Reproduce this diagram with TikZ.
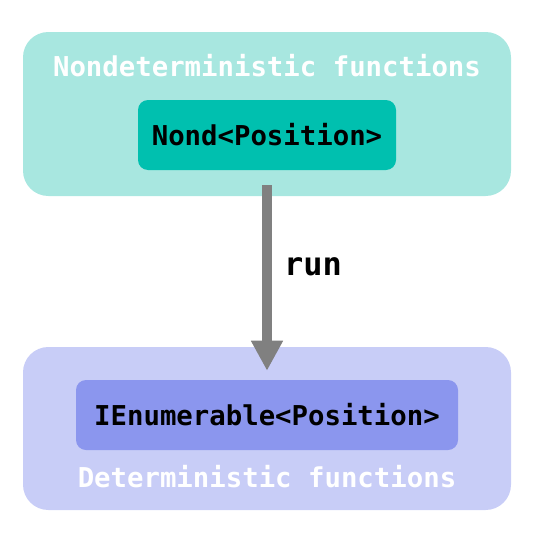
\documentclass[tikz,border=0pt]{standalone}
\usepackage{fontspec}
\newfontfamily\codefont{DejaVu Sans Mono}
\usetikzlibrary{arrows.meta}
\definecolor{topouter}{HTML}{A8E7E0}
\definecolor{topinner}{HTML}{00C0AF}
\definecolor{botouter}{HTML}{C8CDF7}
\definecolor{botinner}{HTML}{8B96EE}
\definecolor{arrowgray}{HTML}{808080}
\tikzset{
  outerbox/.style={rectangle, rounded corners=19pt, inner sep=0pt, minimum width=366pt},
  innerbox/.style={rectangle, rounded corners=7.5pt, inner sep=0pt, minimum height=52.5pt,
    font=\codefont\bfseries\fontsize{20.5pt}{24pt}\selectfont, text=black},
  titletext/.style={font=\codefont\bfseries\fontsize{20.5pt}{24pt}\selectfont, text=white, inner sep=0pt},
  runarrow/.style={draw=arrowgray, line width=7.5pt,
    -{Triangle[width=22.5pt,length=22.5pt]}, shorten <=11.25pt, shorten >=6.75pt},
}
\begin{document}
\begin{tikzpicture}[x=0.75pt,y=-0.75pt]
\useasboundingbox (0,0) rectangle (535,546);
\node[outerbox, fill=topouter, minimum height=123pt] (topbox) at (267,114) {};
\node[titletext] (toptitle) at (267,66) {Nondeterministic functions};
\node[innerbox, fill=topinner, minimum width=193.5pt] (nond) at (267,135) {Nond<Position>};
\node[outerbox, fill=botouter, minimum height=122.25pt] (botbox) at (267,428.5) {};
\node[innerbox, fill=botinner, minimum width=286.5pt] (ienum) at (267,415) {IEnumerable<Position>};
\node[titletext] (bottitle) at (267,477) {Deterministic functions};
\draw[runarrow] (nond.south) -- node[right=9pt, font=\codefont\bfseries\fontsize{24pt}{28pt}\selectfont, text=black, inner sep=0pt, yshift=6pt] (runlabel) {run} (ienum.north);
\end{tikzpicture}
\end{document}
